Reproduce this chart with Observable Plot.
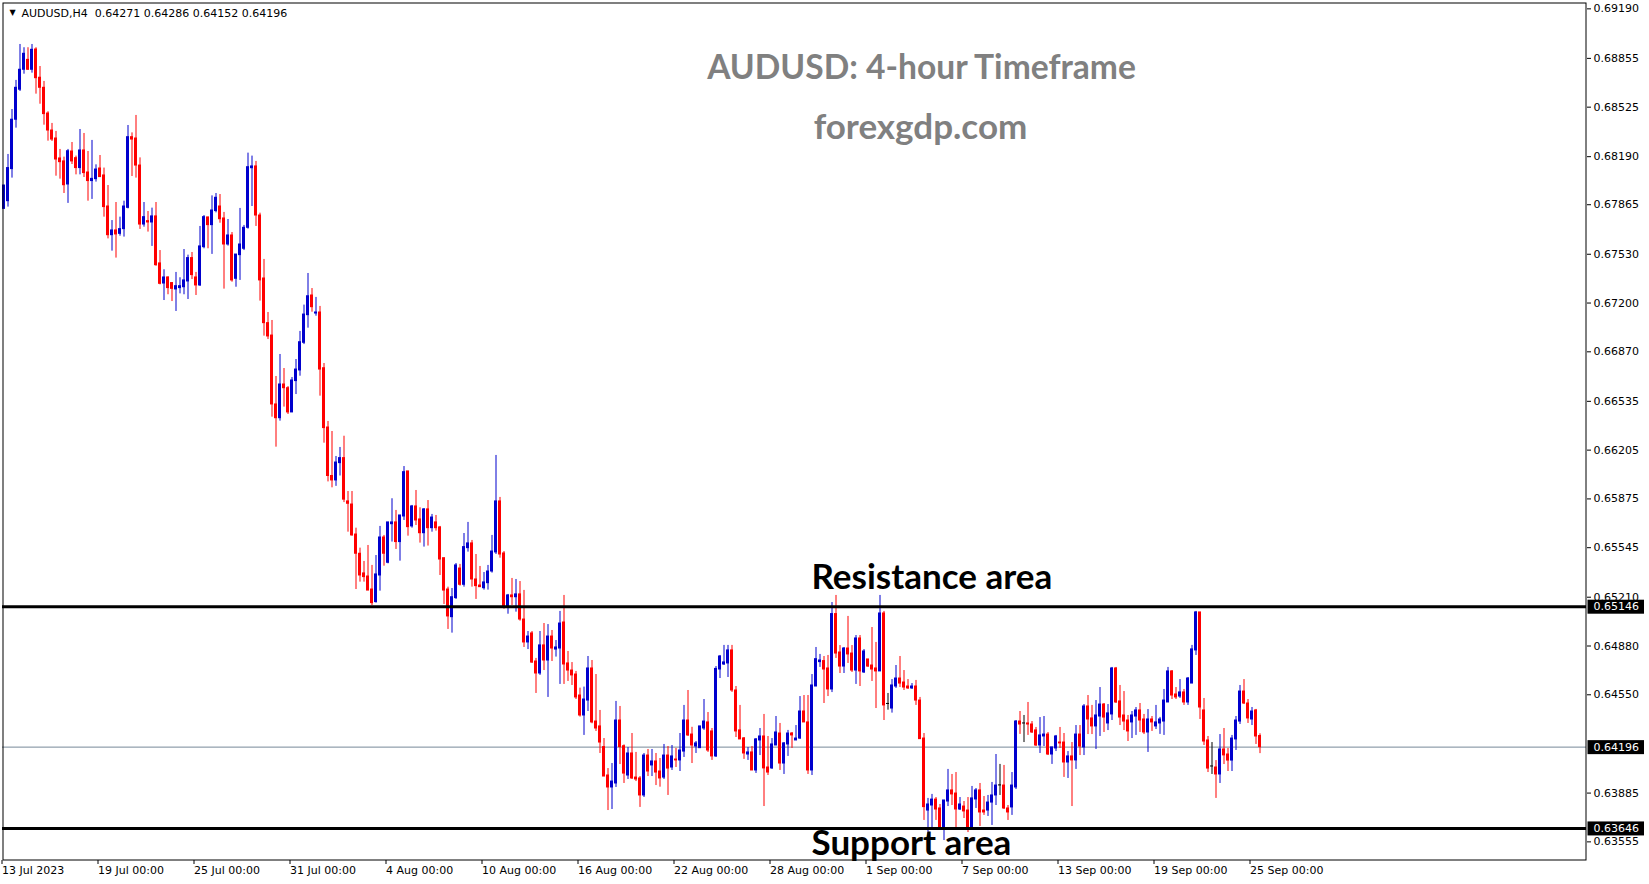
<!DOCTYPE html>
<html><head><meta charset="utf-8">
<script src="https://cdn.jsdelivr.net/npm/d3@7"></script>
<script src="https://cdn.jsdelivr.net/npm/@observablehq/plot@0.6"></script>
<style>
html,body{margin:0;padding:0;background:#fff;}
#chart{width:1649px;height:884px;overflow:hidden;}
</style></head><body><div id="chart"></div>
<script>
// ---- data (AUDUSD H4) ----
const open = [
.67837,.67889,.68106,.68440,.68643,.68778,.68845,.68778,.68915,.68724,
.68656,.68482,.68367,.68313,.68178,.68158,.68002,.68225,.68180,.68113,
.68232,.68083,.68025,.68038,.68110,.68063,.67853,.67659,.67691,.67668,
.67700,.67844,.68322,.68313,.68130,.67731,.67754,.67745,.67786,.67468,
.67332,.67373,.67335,.67292,.67301,.67307,.67346,.67504,.67373,.67319,
.67578,.67779,.67727,.67822,.67853,.67772,.67596,.67657,.67364,.67524,
.67567,.67709,.68112,.68124,.67792,.67366,.67064,.66980,.66514,.66421,
.66649,.66624,.66460,.66672,.66744,.66931,.67118,.67251,.67129,.67136,
.66759,.66358,.66030,.66000,.66117,.66151,.65858,.65837,.65634,.65504,
.65371,.65350,.65262,.65177,.65357,.65614,.65443,.65704,.65716,.65583,
.65756,.66061,.65689,.65824,.65736,.65643,.65804,.65677,.65716,.65682,
.65474,.65262,.65075,.65204,.65404,.65294,.65542,.65574,.65330,.65289,
.65271,.65305,.65384,.65513,.65858,.65506,.65150,.65222,.65210,.65229,
.65059,.64904,.64965,.64775,.64694,.64884,.64782,.64944,.64856,.64863,
.65039,.64762,.64714,.64687,.64545,.64410,.64511,.64728,.64369,.64336,
.64196,.64004,.63923,.63950,.64376,.64202,.64004,.64153,.63990,.63984,
.63869,.64139,.64072,.64099,.64031,.63990,.64139,.64058,.64112,.64106,
.64166,.64376,.64281,.64200,.64189,.64322,.64363,.64302,.64133,.64721,
.64755,.64762,.64850,.64579,.64309,.64255,.64146,.64160,.64038,.64241,
.64268,.64058,.64052,.64207,.64288,.64085,.64214,.64288,.64241,.64254,
.64437,.64363,.64038,.64606,.64771,.64778,.64728,.64586,.65096,.64836,
.64741,.64863,.64829,.64714,.64931,.64701,.64789,.64748,.64728,.64708,
.65100,.64488,.64457,.64606,.64660,.64633,.64606,.64593,.64606,.64511,
.64254,.63767,.63801,.63841,.63781,.63652,.63828,.63903,.63882,.63774,
.63794,.63767,.63652,.63842,.63903,.63767,.63767,.63821,.63869,.63937,
.63936,.63781,.63788,.63923,.64369,.64356,.64356,.64349,.64309,.64207,
.64268,.64281,.64146,.64187,.64227,.64227,.64092,.64133,.64106,.64281,
.64194,.64471,.64390,.64336,.64403,.64484,.64356,.64417,.64728,.64505,
.64410,.64376,.64363,.64403,.64444,.64383,.64295,.64383,.64336,.64356,
.64369,.64498,.64708,.64552,.64538,.64566,.64498,.64626,.64850,.65107,
.64444,.64241,.64065,.64058,.64011,.64180,.64146,.64105,.64248,.64369,
.64572,.64491,.64383,.64444,.64271];
const high = [
.67995,.68205,.68509,.68706,.68949,.68927,.68927,.68949,.68927,.68800,
.68699,.68494,.68415,.68361,.68239,.68187,.68239,.68286,.68194,.68374,
.68347,.68225,.68300,.68135,.68198,.68113,.67995,.67758,.67880,.67781,
.67889,.68401,.68351,.68469,.68182,.67880,.67819,.67842,.67880,.67555,
.67425,.67377,.67339,.67407,.67371,.67562,.67524,.67542,.67407,.67718,
.67792,.67781,.67925,.67941,.67934,.67813,.67765,.67677,.67528,.67840,
.67725,.68214,.68194,.68158,.67808,.67495,.67136,.67082,.66703,.66852,
.66757,.66635,.66696,.66818,.67008,.67186,.67400,.67298,.67238,.67177,
.66791,.66399,.66331,.66162,.66223,.66299,.65925,.65925,.65677,.65542,
.65452,.65560,.65425,.65492,.65689,.65628,.65716,.65876,.65797,.65763,
.66094,.66061,.65831,.65932,.65815,.65810,.65864,.65770,.65763,.65689,
.65474,.65278,.65269,.65438,.65432,.65641,.65716,.65594,.65499,.65418,
.65377,.65425,.65628,.66169,.65885,.65519,.65229,.65337,.65330,.65316,
.65256,.64978,.64978,.64796,.64978,.65032,.65025,.64985,.64917,.65114,
.65222,.64843,.64768,.64708,.64595,.64602,.64809,.64782,.64687,.64444,
.64254,.64051,.64085,.64505,.64471,.64211,.64193,.64288,.64160,.63997,
.64153,.64180,.64180,.64153,.64119,.64214,.64200,.64207,.64187,.64288,
.64478,.64579,.64330,.64234,.64336,.64518,.64430,.64322,.64741,.64816,
.64884,.64884,.64884,.64606,.64478,.64261,.64193,.64200,.64254,.64322,
.64417,.64268,.64254,.64403,.64356,.64227,.64309,.64295,.64342,.64538,
.64545,.64545,.64687,.64870,.64823,.64809,.64816,.65174,.65222,.64883,
.64870,.65080,.64883,.64951,.64951,.64856,.64789,.65005,.64904,.65222,
.65114,.64559,.64653,.64748,.64809,.64714,.64653,.64626,.64647,.64532,
.64288,.63849,.63876,.63855,.63808,.63835,.64045,.64011,.64024,.63855,
.63828,.63855,.63930,.63916,.63950,.63862,.63869,.63957,.64146,.64079,
.64072,.63801,.64024,.64376,.64437,.64410,.64498,.64369,.64329,.64396,
.64403,.64295,.64194,.64275,.64329,.64288,.64166,.64227,.64342,.64342,
.64484,.64545,.64478,.64511,.64599,.64491,.64484,.64735,.64735,.64613,
.64572,.64410,.64437,.64464,.64491,.64417,.64450,.64403,.64478,.64397,
.64586,.64735,.64714,.64599,.64653,.64586,.64667,.64884,.65114,.65107,
.64525,.64268,.64227,.64105,.64281,.64322,.64187,.64275,.64403,.64613,
.64653,.64518,.64464,.64451,.64286];
const low = [
.67837,.67849,.68045,.68383,.68631,.68748,.68773,.68755,.68613,.68545,
.68403,.68295,.68293,.68058,.68038,.67941,.67874,.68137,.68067,.68067,
.68049,.67889,.67901,.68018,.68052,.67781,.67634,.67551,.67504,.67652,
.67646,.67837,.68056,.68045,.67698,.67713,.67680,.67583,.67449,.67323,
.67217,.67256,.67210,.67143,.67262,.67256,.67224,.67359,.67251,.67312,
.67567,.67567,.67529,.67810,.67740,.67294,.67585,.67341,.67307,.67353,
.67555,.67700,.67853,.67718,.67213,.66976,.66953,.66428,.66225,.66401,
.66496,.66446,.66460,.66581,.66705,.66919,.67030,.67138,.67111,.66570,
.66252,.65990,.65950,.65960,.66030,.65850,.65650,.65623,.65262,.65312,
.65312,.65255,.65154,.65170,.65251,.65420,.65436,.65583,.65533,.65454,
.65729,.65623,.65677,.65695,.65576,.65549,.65556,.65650,.65657,.65357,
.65161,.64992,.64967,.65195,.65285,.65278,.65515,.65278,.65195,.65276,
.65258,.65258,.65373,.65499,.65474,.65129,.65095,.65154,.65109,.65048,
.64870,.64856,.64762,.64559,.64681,.64714,.64532,.64775,.64805,.64620,
.64620,.64640,.64613,.64518,.64399,.64275,.64437,.64354,.64302,.64153,
.63997,.63767,.63774,.63923,.64078,.63950,.63977,.63977,.63963,.63788,
.63855,.63997,.63997,.63936,.63925,.63977,.63869,.64038,.64058,.64031,
.64126,.64268,.64085,.64153,.64189,.64309,.64160,.64106,.64126,.64660,
.64748,.64667,.64566,.64261,.64248,.64113,.64106,.64038,.64018,.64139,
.63794,.64004,.64045,.64207,.64038,.64011,.64133,.64187,.64241,.64248,
.64363,.64011,.64004,.64606,.64735,.64491,.64538,.64565,.64796,.64694,
.64694,.64762,.64701,.64620,.64606,.64694,.64735,.64640,.64457,.64708,
.64376,.64446,.64426,.64593,.64599,.64579,.64586,.64586,.64478,.64250,
.63700,.63580,.63652,.63700,.63652,.63564,.63794,.63801,.63652,.63767,
.63713,.63618,.63652,.63781,.63659,.63734,.63727,.63666,.63801,.63869,
.63774,.63700,.63734,.63909,.64282,.64227,.64275,.64288,.64200,.64153,
.64200,.64139,.64079,.64166,.64187,.63991,.63984,.63794,.64045,.64139,
.64139,.64281,.64281,.64180,.64268,.64295,.64308,.64376,.64491,.64342,
.64308,.64234,.64254,.64275,.64295,.64281,.64160,.64302,.64315,.64282,
.64275,.64498,.64518,.64518,.64525,.64478,.64478,.64626,.64816,.64383,
.64207,.64024,.64011,.63849,.63950,.64078,.64031,.64031,.64173,.64349,
.64484,.64356,.64342,.64214,.64152];
const close = [
.67995,.68113,.68440,.68656,.68778,.68886,.68778,.68913,.68721,.68656,
.68478,.68367,.68306,.68171,.68153,.67997,.68227,.68158,.68113,.68232,
.68079,.68025,.68040,.68103,.68052,.67849,.67659,.67691,.67664,.67700,
.67853,.68322,.68306,.68130,.67731,.67781,.67745,.67786,.67456,.67330,
.67373,.67301,.67296,.67314,.67314,.67353,.67504,.67389,.67319,.67583,
.67781,.67727,.67826,.67912,.67767,.67596,.67657,.67353,.67528,.67596,
.67709,.68119,.68124,.67792,.67353,.67064,.66974,.66514,.66421,.66649,
.66624,.66460,.66676,.66750,.66935,.67122,.67246,.67172,.67136,.66750,
.66354,.66030,.66000,.66121,.66151,.65870,.65842,.65628,.65504,.65357,
.65346,.65255,.65170,.65364,.65614,.65504,.65716,.65716,.65583,.65763,
.66056,.65684,.65824,.65729,.65643,.65804,.65677,.65749,.65677,.65465,
.65255,.65080,.65210,.65425,.65294,.65549,.65574,.65330,.65285,.65278,
.65310,.65384,.65519,.65858,.65499,.65150,.65222,.65210,.65229,.65059,
.64904,.64944,.64768,.64694,.64884,.64782,.64944,.64863,.64870,.65032,
.64755,.64714,.64681,.64532,.64410,.64518,.64728,.64363,.64322,.64227,
.63997,.63923,.63963,.64376,.64196,.64017,.64153,.63984,.63977,.63869,
.64139,.64031,.64099,.64024,.63984,.64139,.64051,.64133,.64106,.64173,
.64376,.64275,.64207,.64221,.64336,.64369,.64173,.64133,.64725,.64809,
.64769,.64850,.64579,.64302,.64248,.64153,.64160,.64038,.64248,.64268,
.64052,.64024,.64214,.64295,.64085,.64221,.64288,.64275,.64254,.64437,
.64363,.64038,.64613,.64791,.64782,.64721,.64586,.65096,.64829,.64741,
.64863,.64823,.64714,.64931,.64708,.64843,.64741,.64721,.64708,.65100,
.64478,.64488,.64613,.64660,.64626,.64599,.64593,.64606,.64511,.64250,
.63790,.63808,.63841,.63774,.63652,.63835,.63903,.63876,.63774,.63808,
.63761,.63652,.63849,.63903,.63754,.63754,.63821,.63869,.63936,.63937,
.63781,.63754,.63936,.64369,.64349,.64356,.64349,.64295,.64207,.64275,
.64281,.64146,.64194,.64268,.64221,.64092,.64133,.64106,.64281,.64200,
.64471,.64383,.64336,.64410,.64484,.64396,.64424,.64728,.64498,.64396,
.64369,.64302,.64410,.64444,.64376,.64295,.64383,.64363,.64363,.64383,
.64511,.64708,.64545,.64532,.64566,.64498,.64660,.64857,.65107,.64464,
.64234,.64051,.64065,.64011,.64180,.64140,.64105,.64254,.64376,.64572,
.64491,.64390,.64437,.64268,.64196];

const xTickBars = [0,24,48,72,96,120,144,168,192,216,240,264,288,312];
const xTickLabels = ["13 Jul 2023","19 Jul 00:00","25 Jul 00:00","31 Jul 00:00","4 Aug 00:00",
  "10 Aug 00:00","16 Aug 00:00","22 Aug 00:00","28 Aug 00:00","1 Sep 00:00","7 Sep 00:00",
  "13 Sep 00:00","19 Sep 00:00","25 Sep 00:00"];
const yTicks = [0.69190,0.68855,0.68525,0.68190,0.67865,0.67530,0.67200,0.66870,0.66535,
  0.66205,0.65875,0.65545,0.65210,0.64880,0.64550,0.63885,0.63555];
const resistance = 0.65146, support = 0.63646, lastPrice = 0.64196;
const priceTags = [resistance, lastPrice, support];
const headerText = "AUDUSD,H4  0.64271 0.64286 0.64152 0.64196";
const titleText = "AUDUSD: 4-hour Timeframe";
const subtitleText = "forexgdp.com";
const resistanceText = "Resistance area";
const supportText = "Support area";

// ---- build ----
const bars = open.map((o, i) => ({i, o, h: high[i], l: low[i], c: close[i],
  dir: close[i] > o ? "up" : close[i] < o ? "down" : "flat"}));

const chart = Plot.plot({
  width: 1649, height: 884,
  marginLeft: 2, marginTop: 2, marginRight: 63, marginBottom: 24,
  x: {type: "linear", domain: [-0.375, 395.625]},
  y: {domain: [0.63429, 0.69233]},
  color: {domain: ["up", "down", "flat"], range: ["#0000CD", "#FF0000", "#000000"]},
  style: {fontFamily: "DejaVu Sans", fontSize: "11px", background: "#fff", color: "#000"},
  marks: [
    Plot.ruleY([lastPrice], {stroke: "#778899", strokeWidth: 1}),
    Plot.ruleX(bars, {x: "i", y1: "l", y2: "h", stroke: "dir", strokeWidth: 1}),
    Plot.rect(bars, {x1: d => d.i - 0.375, x2: d => d.i + 0.375,
      y1: d => Math.min(d.o, d.c), y2: d => Math.max(d.o, d.c),
      fill: "dir", insetTop: -0.5, insetBottom: -0.5}),
    Plot.ruleY([resistance, support], {stroke: "#000", strokeWidth: 3}),
    Plot.frame({stroke: "#000", inset: 0.5}),
    Plot.axisY({anchor: "right", ticks: yTicks, tickFormat: d => d.toFixed(5),
      tickSize: 4, tickPadding: 3, label: null}),
    Plot.axisX({ticks: xTickBars, tickFormat: i => xTickLabels[xTickBars.indexOf(i)],
      textAnchor: "start", dx: -2, tickSize: 4, tickPadding: 2, label: null}),
    Plot.text(priceTags, {y: d => d, frameAnchor: "right", textAnchor: "start",
      dx: 7, text: d => d.toFixed(5), fill: "#fff", ariaDescription: "price-tags"}),
    Plot.text(["\u25BC"], {frameAnchor: "top-left", dx: 7, dy: 7, fontSize: 8, fill: "#000"}),
    Plot.text([headerText], {frameAnchor: "top-left", dx: 19, dy: 7, textAnchor: "start",
      fill: "#000", fontSize: 11}),
    Plot.text([titleText], {frameAnchor: "top-left", dx: 919, dy: 53, textAnchor: "middle",
      fontFamily: "Lato", fontWeight: "bold", fontSize: 33.6, fill: "#808080"}),
    Plot.text([subtitleText], {frameAnchor: "top-left", dx: 918, dy: 112, textAnchor: "middle",
      fontFamily: "Lato", fontWeight: "bold", fontSize: 35, fill: "#808080"}),
    Plot.text([resistance], {y: d => d, text: () => resistanceText, frameAnchor: "left",
      dx: 809, dy: -29, textAnchor: "start", fontFamily: "Lato", fontWeight: "bold",
      fontSize: 35, fill: "#000"}),
    Plot.text([support], {y: d => d, text: () => supportText, frameAnchor: "left",
      dx: 809, dy: 15, textAnchor: "start", fontFamily: "Lato", fontWeight: "bold",
      fontSize: 35, fill: "#000"})
  ]
});
document.getElementById("chart").append(chart);

// black boxes behind the right-hand price tags
d3.select(chart).selectAll('g[aria-description="price-tags"] text').each(function() {
  const b = this.getBBox();
  const r = document.createElementNS("http://www.w3.org/2000/svg", "rect");
  r.setAttribute("x", b.x - 6); r.setAttribute("y", b.y - 0.5);
  r.setAttribute("width", b.width + 11); r.setAttribute("height", b.height + 1);
  r.setAttribute("fill", "#000");
  if (this.getAttribute("transform")) r.setAttribute("transform", this.getAttribute("transform"));
  this.parentNode.insertBefore(r, this);
});
</script>
</body></html>
